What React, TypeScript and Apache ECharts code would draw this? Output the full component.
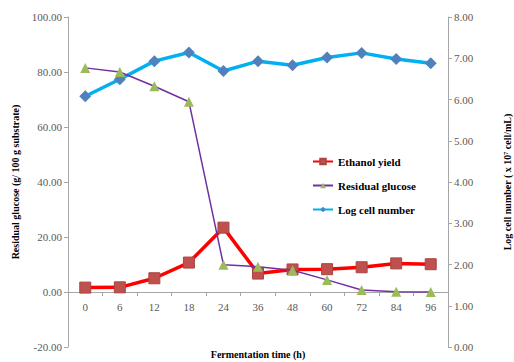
import React, { useEffect, useRef } from "react";
import * as echarts from "echarts";

const categories = ["0", "6", "12", "18", "24", "36", "48", "60", "72", "84", "96"];
const ethanolYield = [1.6, 1.7, 5.0, 10.7, 23.4, 6.7, 8.2, 8.3, 9.0, 10.4, 10.1];
const residualGlucose = [81.5, 80.0, 74.8, 69.2, 9.9, 9.2, 7.9, 4.4, 0.7, 0.1, 0.0];
const logCellNumber = [6.08, 6.49, 6.93, 7.14, 6.69, 6.93, 6.83, 7.02, 7.13, 6.98, 6.88];

const FONT = "Liberation Serif";

export default function App() {
  const ref = useRef<HTMLDivElement>(null);
  useEffect(() => {
    if (!ref.current) return;
    const chart = echarts.init(ref.current, undefined, { renderer: "svg" });
    const axisLabel = { fontFamily: FONT, fontSize: 11, color: "#595959" };
    const nameStyle = { fontFamily: FONT, fontSize: 10, fontWeight: "bold" as const, color: "#000" };
    chart.setOption({
      animation: false,
      backgroundColor: "#fff",
      grid: { left: 68, right: 66, top: 17, bottom: 15, containLabel: false, outerBoundsMode: "none" },
      legend: {
        orient: "vertical",
        left: 307,
        top: 151,
        itemGap: 13,
        itemWidth: 20,
        itemHeight: 7,
        textStyle: { fontFamily: FONT, fontSize: 11, fontWeight: "bold", color: "#000" },
        data: ["Ethanol yield", "Residual glucose", "Log cell number"],
      },
      xAxis: {
        type: "category",
        data: categories,
        boundaryGap: true,
        position: "bottom",
        offset: -55,
        name: "Fermentation time (h)",
        nameLocation: "middle",
        nameGap: 57,
        nameTextStyle: nameStyle,
        axisLine: { onZero: false, lineStyle: { color: "#a6a6a6" } },
        axisTick: { show: true, length: 4, lineStyle: { color: "#a6a6a6" } },
        axisLabel: { ...axisLabel, margin: 9 },
        splitLine: { show: false },
      },
      yAxis: [
        {
          type: "value",
          min: -20,
          max: 100,
          interval: 20,
          name: "Residual glucose (g/ 100 g substrate)",
          nameLocation: "middle",
          nameRotate: 90,
          nameGap: 48,
          nameTextStyle: nameStyle,
          axisLine: { show: true, lineStyle: { color: "#a6a6a6" } },
          axisTick: { show: true, length: 4, lineStyle: { color: "#a6a6a6" } },
          axisLabel: { ...axisLabel, margin: 6, formatter: (v: number) => v.toFixed(2) },
          splitLine: { show: false },
        },
        {
          type: "value",
          min: 0,
          max: 8,
          interval: 1,
          position: "right",
          name: "Log cell number ( x 10\u2077 cell/mL)",
          nameLocation: "middle",
          nameRotate: 90,
          nameGap: 54,
          nameTextStyle: nameStyle,
          axisLine: { show: true, lineStyle: { color: "#a6a6a6" } },
          axisTick: { show: true, length: 4, lineStyle: { color: "#a6a6a6" } },
          axisLabel: { ...axisLabel, margin: 6, formatter: (v: number) => v.toFixed(2) },
          splitLine: { show: false },
        },
      ],
      series: [
        {
          name: "Ethanol yield",
          type: "line",
          yAxisIndex: 0,
          data: ethanolYield,
          symbol: "rect",
          symbolSize: 11,
          itemStyle: { color: "#c0504d", borderColor: "#a94543", borderWidth: 1 },
          lineStyle: { color: "#ff0000", width: 3.5 },
          z: 3,
        },
        {
          name: "Residual glucose",
          type: "line",
          yAxisIndex: 0,
          data: residualGlucose,
          symbol: "triangle",
          symbolSize: 10,
          itemStyle: { color: "#9bbb59" },
          lineStyle: { color: "#7030a0", width: 1.5 },
          z: 4,
        },
        {
          name: "Log cell number",
          type: "line",
          yAxisIndex: 1,
          data: logCellNumber,
          symbol: "diamond",
          symbolSize: 12,
          itemStyle: { color: "#4f81bd" },
          lineStyle: { color: "#00b0f0", width: 3.5 },
          z: 2,
        },
      ],
    });
    return () => chart.dispose();
  }, []);
  return <div ref={ref} style={{ width: 514, height: 362, position: "fixed", left: 0, top: 0 }} />;
}
